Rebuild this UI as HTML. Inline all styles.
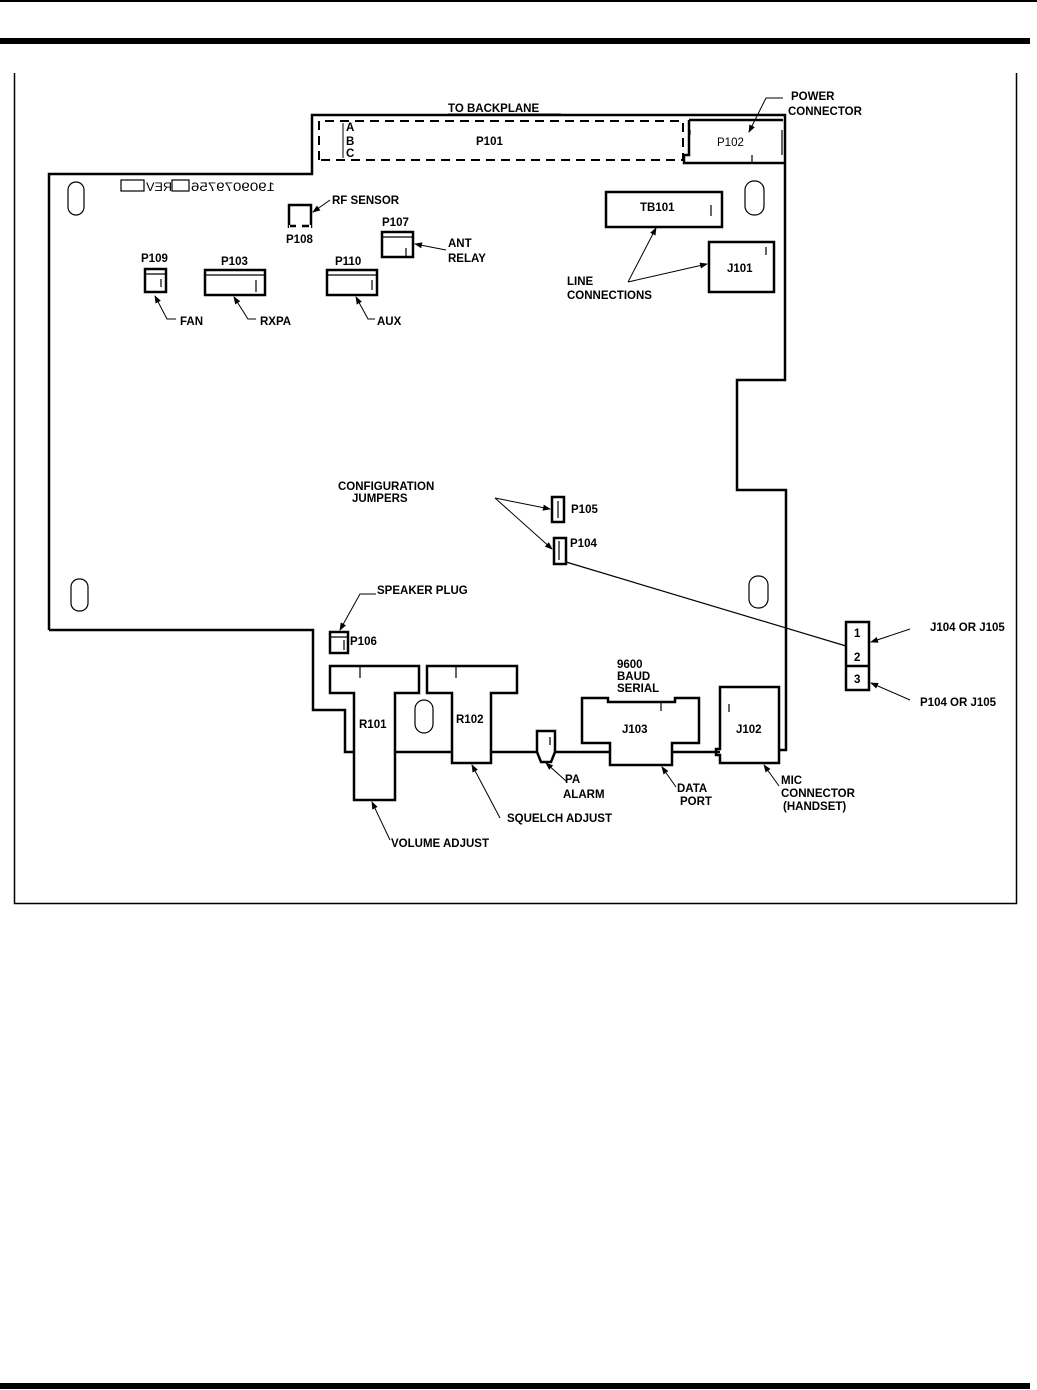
<!DOCTYPE html>
<html><head><meta charset="utf-8"><style>
html,body{margin:0;padding:0;background:#fff;}
svg{display:block;}
text{font-family:"Liberation Sans",sans-serif;font-weight:bold;font-size:11.5px;fill:#000;}
</style></head><body>
<svg width="1037" height="1390" viewBox="0 0 1037 1390" xmlns="http://www.w3.org/2000/svg">
<defs><marker id="ar" markerWidth="8" markerHeight="8" refX="7" refY="4" orient="auto" markerUnits="userSpaceOnUse"><path d="M0,1 L8,4 L0,7 z" fill="#000"/></marker></defs>
<rect x="0" y="0" width="1037" height="2" fill="#000"/>
<rect x="0" y="38" width="1030" height="6" fill="#000"/>
<rect x="0" y="1383" width="1030" height="6" fill="#000"/>
<path d="M14.5,73 V903.5 H1016.5 V73" fill="none" stroke="#000" stroke-width="1.5"/>
<g fill="none" stroke="#000" stroke-width="2.5">
<path d="M49,630 V174 H312 V115 H785 V380 H737 V490 H786 V750 H779"/>
<path d="M49,630 H313 V710 H345 V752 H354"/>
<path d="M395,752 H452 M491,752 H537 M554,752 H610 M672,752 H720"/>
<path d="M354,800 V693 H330 V666 H419 V693 H395 V800 Z"/>
<path d="M452,763 V693 H427 V666 H517 V693 H491 V763 Z"/>
<path d="M537,731 H555 V752 L551,762 H541 L537,752 Z"/>
<path d="M582,698 H608 V702 H675 V698 H699 V743 H672 V765 H610 V743 H582 Z"/>
<path d="M720,687 H779 V763 H720 V755 H716 V749 H720 Z"/>
<path d="M689,120 H783 M689,120 V155 H684 V163 H785"/>
<rect x="606" y="192" width="116" height="35"/>
<rect x="709" y="242" width="65" height="50"/>
<rect x="382" y="232" width="31" height="25"/>
<rect x="145" y="269" width="21" height="23"/>
<rect x="205" y="270" width="60" height="25"/>
<rect x="327" y="270" width="50" height="25"/>
<rect x="552" y="497" width="12" height="25"/>
<rect x="554" y="538" width="12" height="26"/>
<rect x="330" y="632" width="18" height="21"/>
<rect x="846" y="622" width="23" height="68"/>
<path d="M846,666 H869"/>
<path d="M289,228 V205 H311 V228"/>
</g>
<g fill="none" stroke="#000" stroke-width="1.2">
<path d="M382,237 H413 M145,274 H166 M205,275 H265 M327,275 H377 M330,637 H348"/>
<path d="M406,248 V257 M161,279 V287 M256,280 V292 M372,280 V290 M711,205 V216 M766,247 V255 M558,501 V518 M559,541 V560 M344,640 V650 M360,666 V678 M456,666 V678 M550,737 V745 M661,702 V711 M729,704 V712 M690,130 V135 M782,130 V155 M752,155 V163"/>
<rect x="68" y="182" width="16" height="33" rx="8"/>
<rect x="71" y="579" width="17" height="32" rx="8"/>
<rect x="745" y="181" width="19" height="34" rx="9"/>
<rect x="749" y="576" width="19" height="32" rx="9"/>
<rect x="415" y="700" width="18" height="33" rx="9"/>
<rect x="121" y="180" width="23" height="11"/>
<rect x="172" y="180" width="17" height="11"/>
</g>
<path d="M319,160 V121 H683 V160 Z" fill="none" stroke="#000" stroke-width="2" stroke-dasharray="9,6"/>
<path d="M343,123 V158" stroke="#000" stroke-width="1"/>
<rect x="289" y="225" width="22" height="3" fill="#fff"/>
<path d="M290,226 H296 M302,226 H309" stroke="#000" stroke-width="2.5"/>
<g stroke="#000" stroke-width="1" fill="none" marker-end="url(#ar)">
<path d="M330,200 L313,212"/>
<path d="M446,250 L415,244"/>
<path d="M176,319 H167 L155,296"/>
<path d="M256,319 H248 L234,297"/>
<path d="M375,319 H368 L356,297"/>
<path d="M628,282 L656,228"/>
<path d="M628,282 L707,264"/>
<path d="M783,98 L766,98 L749,132"/>
<path d="M495,498 L550,509"/>
<path d="M495,498 L552,549"/>
<path d="M376,594 L360,594 L340,630"/>
<path d="M910,629 L871,642"/>
<path d="M910,700 L871,683"/>
<path d="M566,781 L546,763"/>
<path d="M676,787 L662,767"/>
<path d="M779,786 L764,765"/>
<path d="M500,818 L472,765"/>
<path d="M390,840 L372,802"/>
</g>
<path d="M566,562 L846,646" stroke="#000" stroke-width="1.2" fill="none"/>
<path d="M448,114 H561" stroke="#000" stroke-width="1"/>
<text x="448" y="112">TO BACKPLANE</text>
<text x="346" y="131" font-size="9">A</text><text x="346" y="145" font-size="9">B</text><text x="346" y="157" font-size="9">C</text>
<text x="476" y="145">P101</text>
<text x="717" y="146" style="font-weight:normal">P102</text>
<text x="791" y="100">POWER</text><text x="788" y="115">CONNECTOR</text>
<text x="640" y="211">TB101</text>
<text x="727" y="272">J101</text>
<text transform="translate(172,191) scale(-1,1)" style="font-weight:normal;font-size:12px" textLength="26" lengthAdjust="spacingAndGlyphs">REV</text>
<text transform="translate(275,191) scale(-1,1)" style="font-weight:normal;font-size:12px" textLength="84" lengthAdjust="spacingAndGlyphs">1909079756</text>
<text x="332" y="204">RF SENSOR</text>
<text x="286" y="243">P108</text>
<text x="382" y="226">P107</text>
<text x="448" y="247">ANT</text><text x="448" y="262">RELAY</text>
<text x="141" y="262">P109</text>
<text x="221" y="265">P103</text>
<text x="335" y="265">P110</text>
<text x="180" y="325">FAN</text>
<text x="260" y="325">RXPA</text>
<text x="377" y="325">AUX</text>
<text x="567" y="285">LINE</text><text x="567" y="299">CONNECTIONS</text>
<text x="338" y="490">CONFIGURATION</text><text x="352" y="502">JUMPERS</text>
<text x="571" y="513">P105</text>
<text x="570" y="547">P104</text>
<text x="377" y="594">SPEAKER PLUG</text>
<text x="350" y="645">P106</text>
<text x="854" y="637">1</text><text x="854" y="661">2</text><text x="854" y="683">3</text>
<text x="930" y="631">J104 OR J105</text>
<text x="920" y="706">P104 OR J105</text>
<text x="617" y="668">9600</text><text x="617" y="680">BAUD</text><text x="617" y="692">SERIAL</text>
<text x="622" y="733">J103</text>
<text x="736" y="733">J102</text>
<text x="359" y="728">R101</text>
<text x="456" y="723">R102</text>
<text x="565" y="783">PA</text><text x="563" y="798">ALARM</text>
<text x="677" y="792">DATA</text><text x="680" y="805">PORT</text>
<text x="781" y="784">MIC</text><text x="781" y="797">CONNECTOR</text><text x="783" y="810">(HANDSET)</text>
<text x="507" y="822">SQUELCH ADJUST</text>
<text x="391" y="847">VOLUME ADJUST</text>
</svg>
</body></html>
